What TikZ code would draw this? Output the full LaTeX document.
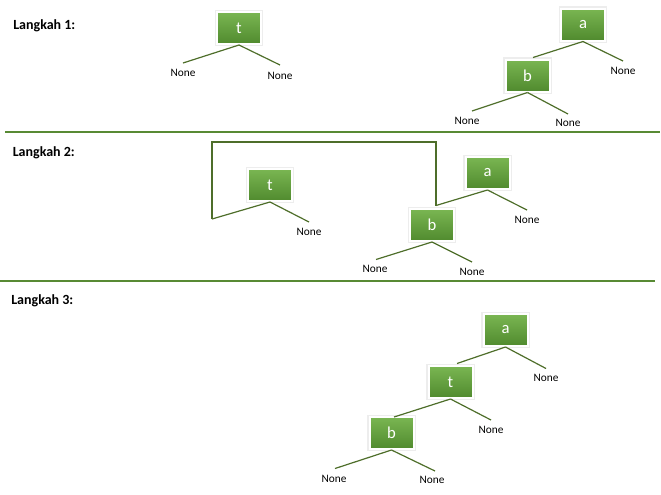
\documentclass[tikz,border=0pt]{standalone}
\usepackage{fontspec}
\setmainfont{Carlito}
\usetikzlibrary{shadows}
\definecolor{gtop}{RGB}{122,182,82}
\definecolor{gbot}{RGB}{80,138,46}
\definecolor{gline}{RGB}{78,110,42}
\definecolor{gsep}{RGB}{88,138,52}
\tikzset{
  treebox/.style={rectangle, top color=gtop, bottom color=gbot, draw=white, line width=1.5pt,
    minimum width=33pt, minimum height=24pt, inner sep=0pt, text=white,
    font=\fontsize{12.5}{14}\selectfont,
    preaction={draw=black!40, line width=3.4pt, opacity=0.18},
    drop shadow={opacity=0.22, shadow xshift=0.4pt, shadow yshift=-0.5pt}},
  nonelabel/.style={font=\fontsize{8.5}{10}\selectfont, text=black, inner sep=0pt},
  stepl/.style={font=\bfseries\fontsize{10.5}{12}\selectfont, anchor=base west, inner sep=0pt},
  edge/.style={draw=gline, line width=0.9pt},
  frameline/.style={draw=gline, line width=0.8pt},
  sep/.style={draw=gsep, line width=2.2pt}
}
\begin{document}
\begin{tikzpicture}[x=0.75pt,y=-0.75pt]
\useasboundingbox (0,0) rectangle (661,494);
% separators
\coordinate (s1a) at (5,132); \coordinate (s1b) at (660,132);
\coordinate (s2a) at (0,281); \coordinate (s2b) at (655,281);
\draw[sep] (s1a) -- (s1b);
\draw[sep] (s2a) -- (s2b);
% step labels
\node[stepl] (L1) at (13,29) {Langkah 1:};
\node[stepl] (L2) at (12.5,156.5) {Langkah 2:};
\node[stepl] (L3) at (11,304) {Langkah 3:};

% ---------- Step 1 ----------
\node[treebox] (t1) at (239,28) {t};
\coordinate (t1l) at (183,63); \coordinate (t1r) at (280,65);
\draw[edge] (t1.south) -- (t1l);
\draw[edge] (t1.south) -- (t1r);
\node[nonelabel] (n1a) at (183,73) {None};
\node[nonelabel] (n1b) at (280,76) {None};

\node[treebox] (a1) at (583,24.5) {a};
\node[treebox] (b1) at (527.5,75.5) {b};
\coordinate (a1l) at (533,57.5); \coordinate (a1r) at (623,61);
\draw[edge] (a1.south) -- (a1l);
\draw[edge] (a1.south) -- (a1r);
\node[nonelabel] (n1c) at (623,71) {None};
\coordinate (b1l) at (472,111); \coordinate (b1r) at (568,114);
\draw[edge] (b1.south) -- (b1l);
\draw[edge] (b1.south) -- (b1r);
\node[nonelabel] (n1d) at (467,120.5) {None};
\node[nonelabel] (n1e) at (568,123) {None};

% ---------- Step 2 ----------
\node[treebox] (t2) at (270,185) {t};
\coordinate (t2l) at (212,219); \coordinate (t2r) at (309,222);
\draw[edge] (t2.south) -- (t2l);
\draw[edge] (t2.south) -- (t2r);
\node[nonelabel] (n2a) at (309,231.5) {None};

\node[treebox] (a2) at (487.5,173) {a};
\node[treebox] (b2) at (432,225) {b};
\coordinate (a2l) at (436,205.5); \coordinate (a2r) at (527,210);
\draw[edge] (a2.south) -- (a2l);
\draw[edge] (a2.south) -- (a2r);
\node[nonelabel] (n2b) at (527,220) {None};
\coordinate (b2l) at (376,259.5); \coordinate (b2r) at (472,262);
\draw[edge] (b2.south) -- (b2l);
\draw[edge] (b2.south) -- (b2r);
\node[nonelabel] (n2c) at (375,269) {None};
\node[nonelabel] (n2d) at (472,272) {None};
% frame
\coordinate (fr1) at (436,142); \coordinate (fr2) at (212,142);
\draw[frameline] (a2l) -- (fr1) -- (fr2) -- (t2l);

% ---------- Step 3 ----------
\node[treebox] (a3) at (505.5,330) {a};
\node[treebox] (t3) at (450.5,382) {t};
\node[treebox] (b3) at (391.5,433) {b};
\coordinate (a3l) at (457,363.5); \coordinate (a3r) at (546,368.5);
\draw[edge] (a3.south) -- (a3l);
\draw[edge] (a3.south) -- (a3r);
\node[nonelabel] (n3a) at (546,377.5) {None};
\coordinate (t3l) at (394,417); \coordinate (t3r) at (491,420);
\draw[edge] (t3.south) -- (t3l);
\draw[edge] (t3.south) -- (t3r);
\node[nonelabel] (n3b) at (491,429.5) {None};
\coordinate (b3l) at (335,468.5); \coordinate (b3r) at (435,471);
\draw[edge] (b3.south) -- (b3l);
\draw[edge] (b3.south) -- (b3r);
\node[nonelabel] (n3c) at (334,478.5) {None};
\node[nonelabel] (n3d) at (432,480) {None};
\end{tikzpicture}
\end{document}
